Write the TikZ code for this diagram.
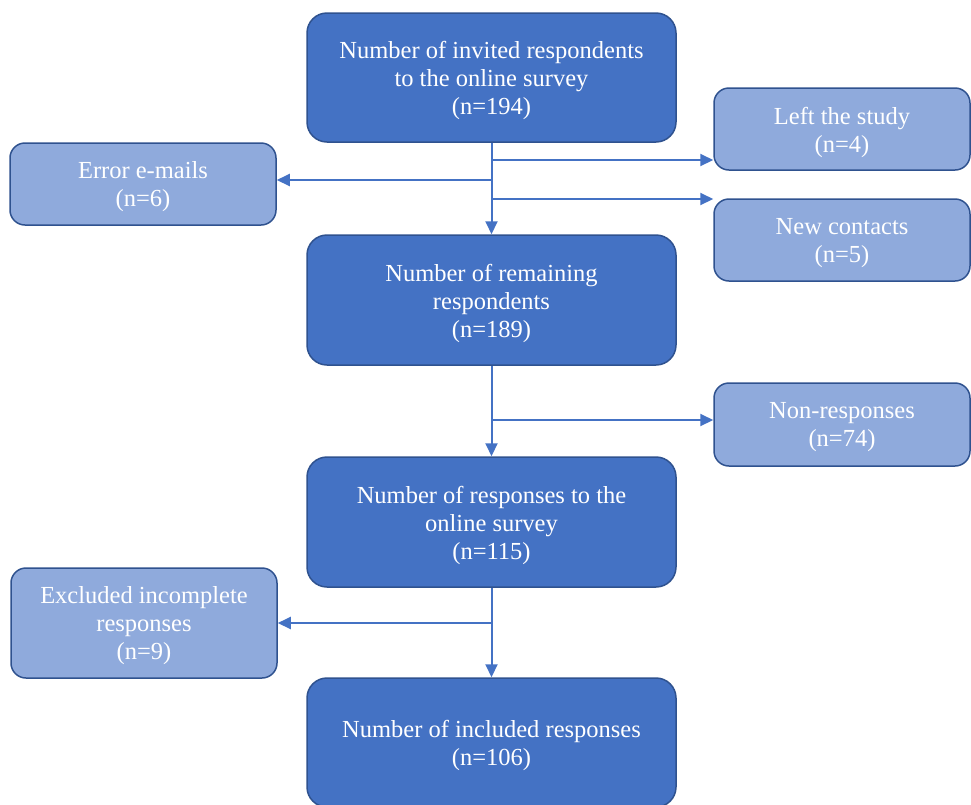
\documentclass[tikz,border=0pt]{standalone}
\usepackage{fontspec}
\setmainfont{Liberation Serif}
\usetikzlibrary{arrows.meta}
\definecolor{mainfill}{HTML}{4472C4}
\definecolor{lightfill}{HTML}{8FAADC}
\definecolor{edgecol}{HTML}{2F528F}
\tikzset{
  mainbox/.style={draw=edgecol, line width=1.5pt, fill=mainfill, rounded corners=20pt,
    minimum width=369pt, minimum height=129pt, inner sep=0pt},
  sidebox/.style={draw=edgecol, line width=1.5pt, fill=lightfill, rounded corners=15pt,
    minimum width=256pt, minimum height=82pt, inner sep=0pt},
  txt/.style={text=white, align=center, font=\fontsize{24.5}{28}\selectfont, inner sep=0pt},
  arr/.style={draw=mainfill, line width=2pt, -{Triangle[length=13pt,width=12pt]}},
}
\begin{document}
\begin{tikzpicture}[x=1pt,y=1pt]
\useasboundingbox (0,0) rectangle (971,-804);
\begin{scope}
\clip (0,0) rectangle (971,-804);
\node[mainbox] (A) at (491.5,-77.5) {};
\node[sidebox] (left) at (842,-129) {};
\node[sidebox, minimum width=266pt] (err) at (143,-184) {};
\node[sidebox] (new) at (842,-240) {};
\node[mainbox, minimum height=130pt] (B) at (491.5,-300) {};
\node[sidebox, minimum height=83pt] (non) at (842,-424.5) {};
\node[mainbox, minimum height=130pt] (C) at (491.5,-522) {};
\node[sidebox, minimum width=266pt, minimum height=110pt] (exc) at (144,-623) {};
\node[mainbox] (D) at (491.5,-742.5) {};

\node[txt] (tA) at ([yshift=-3pt]A.center) {Number of invited respondents\\to the online survey\\(n=194)};
\node[txt] (tleft) at ([yshift=-3pt]left.center) {Left the study\\(n=4)};
\node[txt] (terr) at ([yshift=-3pt]err.center) {Error e-mails\\(n=6)};
\node[txt] (tnew) at ([yshift=-3pt]new.center) {New contacts\\(n=5)};
\node[txt] (tB) at ([yshift=-3pt]B.center) {Number of remaining\\respondents\\(n=189)};
\node[txt] (tnon) at ([yshift=-3pt]non.center) {Non-responses\\(n=74)};
\node[txt] (tC) at ([yshift=-3pt]C.center) {Number of responses to the\\online survey\\(n=115)};
\node[txt] (texc) at ([yshift=-3pt]exc.center) {Excluded incomplete\\responses\\(n=9)};
\node[txt] (tD) at ([yshift=-3pt]D.center) {Number of included responses\\(n=106)};

\coordinate (j1) at (491.5,-160);
\coordinate (j2) at (491.5,-180);
\coordinate (j3) at (491.5,-199);
\coordinate (j4) at (491.5,-420);
\coordinate (j5) at (491.5,-623);

\draw[arr] (A.south) -- (B.north);
\draw[arr] (j1) -- (j1 -| left.west);
\draw[arr] (j2) -- (j2 -| err.east);
\draw[arr] (j3) -- (j3 -| new.west);
\draw[arr] (B.south) -- (C.north);
\draw[arr] (j4) -- (j4 -| non.west);
\draw[arr] (C.south) -- (D.north);
\draw[arr] (j5) -- (j5 -| exc.east);
\end{scope}
\end{tikzpicture}
\end{document}
